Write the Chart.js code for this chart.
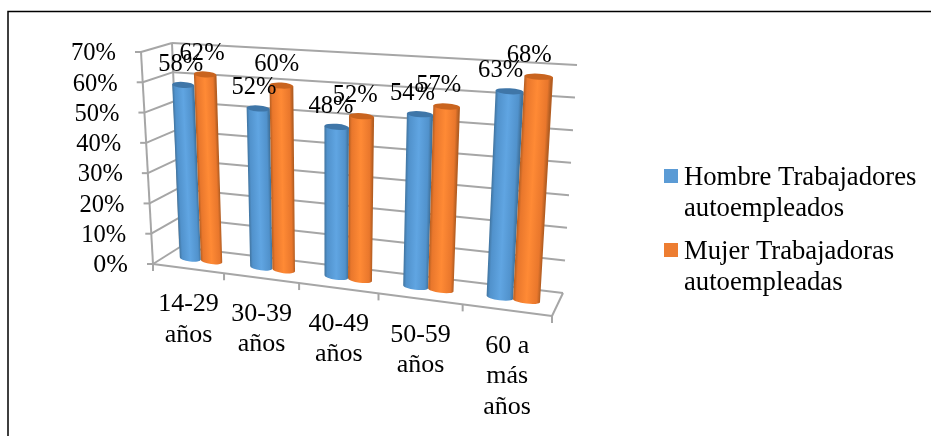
<!DOCTYPE html>
<html>
<head>
<meta charset="utf-8">
<title>Trabajadores autoempleados</title>
<script src="https://cdn.jsdelivr.net/npm/chart.js@4"></script>
<style>
  html, body { margin: 0; padding: 0; background: #fff; }
  canvas { display: block; }
</style>
</head>
<body>
<canvas id="chart" width="931" height="436"></canvas>
<script>
const categories = [['14-29', 'años'], ['30-39', 'años'], ['40-49', 'años'], ['50-59', 'años'], ['60 a', 'más', 'años']];
const hombreValues = [58, 52, 48, 54, 63];
const mujerValues = [62, 60, 52, 57, 68];
const hombreLegend = ['Hombre Trabajadores', 'autoempleados'];
const mujerLegend = ['Mujer Trabajadoras', 'autoempleadas'];

const SERIF = '"Liberation Serif", "Times New Roman", serif';
const GRID = '#a6a6a6';

// corners of the 3d box, front plane and back plane (the chart area is the front plane)
const front = { tl: [141, 52], tr: [567, 79], br: [552, 316], bl: [153, 264] };
const back = { tl: [172, 43], tr: [577, 65], br: [563, 293], bl: [180, 247] };
const SQUEEZE = 0.154; // left side of the floor is further away

function lerp(a, b, t) { return a + (b - a) * t; }

// u, v: 0..1 inside the chart area, w: 0 front, 1 back
function project(u, v, w) {
  const k = u / (1 + SQUEEZE * (1 - u));
  const pt = i => {
    const f = lerp(lerp(front.tl[i], front.tr[i], k), lerp(front.bl[i], front.br[i], k), v);
    const b = lerp(lerp(back.tl[i], back.tr[i], k), lerp(back.bl[i], back.br[i], k), v);
    return lerp(f, b, w);
  };
  return [pt(0), pt(1)];
}

function line(ctx, a, b) {
  ctx.beginPath();
  ctx.moveTo(a[0], a[1]);
  ctx.lineTo(b[0], b[1]);
  ctx.stroke();
}

function cylinder(ctx, area, bar, shades) {
  const u0 = (bar.x - bar.width / 2 - area.left) / area.width;
  const u1 = (bar.x + bar.width / 2 - area.left) / area.width;
  const top = (bar.y - area.top) / area.height;
  const bottom = (bar.base - area.top) / area.height;
  const tl = project(u0, top, 0.5), tr = project(u1, top, 0.5);
  const bl = project(u0, bottom, 0.5), br = project(u1, bottom, 0.5);
  const ry = 3;
  const tilt = Math.atan2(br[1] - bl[1], br[0] - bl[0]);
  const tiltTop = Math.atan2(tr[1] - tl[1], tr[0] - tl[0]);
  const rb = Math.hypot(br[0] - bl[0], br[1] - bl[1]) / 2;
  const rt = Math.hypot(tr[0] - tl[0], tr[1] - tl[1]) / 2;

  ctx.save();
  ctx.beginPath();
  ctx.moveTo(tl[0], tl[1]);
  ctx.lineTo(bl[0], bl[1]);
  ctx.ellipse((bl[0] + br[0]) / 2, (bl[1] + br[1]) / 2, rb, ry, tilt, Math.PI, 0, true);
  ctx.lineTo(tr[0], tr[1]);
  ctx.closePath();
  ctx.clip();

  // shear so the shading runs along the leaning side of the cylinder
  const shear = (tl[0] - bl[0]) / (tl[1] - bl[1]);
  ctx.transform(1, 0, shear, 1, -shear * bl[1], 0);
  const grad = ctx.createLinearGradient(bl[0], 0, br[0], 0);
  grad.addColorStop(0, shades[0]);
  grad.addColorStop(0.12, shades[1]);
  grad.addColorStop(0.5, shades[2]);
  grad.addColorStop(0.88, shades[1]);
  grad.addColorStop(1, shades[0]);
  ctx.fillStyle = grad;
  ctx.fillRect(bl[0] - 5, tl[1] - 10, br[0] - bl[0] + 10, bl[1] - tl[1] + 30);
  ctx.restore();

  ctx.beginPath();
  ctx.ellipse((tl[0] + tr[0]) / 2, (tl[1] + tr[1]) / 2, rt, ry, tiltTop, 0, Math.PI * 2);
  ctx.fillStyle = shades[3];
  ctx.fill();
}

const BLUE = ['#41749f', '#5192cc', '#60a5e2', '#3f76a8'];
const ORANGE = ['#b45e22', '#e9772c', '#ff8a35', '#c9641f'];

const box3d = {
  id: 'box3d',
  // frame, walls and grid go under the bars
  beforeDatasetsDraw(chart) {
    const { ctx, chartArea: area, scales: { y } } = chart;
    ctx.save();
    ctx.strokeStyle = '#000';
    ctx.lineWidth = 1.5;
    ctx.strokeRect(8, 11.5, 940, 460);

    ctx.strokeStyle = GRID;
    ctx.lineWidth = 2;
    y.ticks.forEach(t => {
      const v = (y.getPixelForValue(t.value) - area.top) / area.height;
      const p0 = project(0, v, 0), p1 = project(0, v, 1), p2 = project(1, v, 1);
      line(ctx, [p0[0] - 6, p0[1]], p0);
      line(ctx, p0, p1);
      line(ctx, p1, p2);
    });
    line(ctx, project(0, 0, 0), project(0, 1, 0));
    line(ctx, project(0, 0, 1), project(0, 1, 1));
    line(ctx, project(0, 1, 0), project(1, 1, 0));
    line(ctx, project(1, 1, 0), project(1, 1, 1));
    for (let i = 0; i <= categories.length; i++) {
      const p = project(i / categories.length, 1, 0);
      line(ctx, p, [p[0], p[1] + 7]);
    }
    ctx.restore();
  },
  afterDatasetsDraw(chart) {
    const { ctx, chartArea: area, scales: { x, y } } = chart;
    const metas = [chart.getDatasetMeta(0), chart.getDatasetMeta(1)];
    const shades = [BLUE, ORANGE];

    ctx.save();
    categories.forEach((c, i) => {
      metas.forEach((meta, d) => cylinder(ctx, area, meta.data[i], shades[d]));
    });

    ctx.fillStyle = '#000';
    ctx.textBaseline = 'middle';

    // value labels, a bit condensed like the reference
    ctx.font = '26px ' + SERIF;
    ctx.textAlign = 'center';
    metas.forEach((meta, d) => {
      meta.data.forEach((bar, i) => {
        const u = (bar.x - area.left) / area.width;
        const v = (bar.y - area.top) / area.height;
        const p = project(u, v, 0.5);
        ctx.fillText(chart.data.datasets[d].data[i] + '%', p[0] - 2 - 8 * u, p[1] - 21, 45);
      });
    });

    // y tick labels follow the slanted front edge
    ctx.textAlign = 'right';
    y.ticks.forEach(t => {
      const v = (y.getPixelForValue(t.value) - area.top) / area.height;
      const p = project(0, v, 0);
      ctx.fillText(t.label, p[0] - 25, p[1] + 1.5, 45);
    });

    // category labels follow the front of the floor
    ctx.textAlign = 'center';
    categories.forEach((lines, i) => {
      const u = (x.getPixelForValue(i) - area.left) / area.width;
      const p = project(u, 1, 0);
      lines.forEach((txt, n) => ctx.fillText(txt, p[0] + 0.5, p[1] + 36 + n * 30.5));
    });

    // legend
    ctx.font = '26.7px ' + SERIF;
    ctx.textAlign = 'left';
    chart.data.datasets.forEach((ds, d) => {
      const top = d === 0 ? 169 : 243;
      ctx.fillStyle = ds.legendColor;
      ctx.fillRect(664, top, 14, 14);
      ctx.fillStyle = '#000';
      ds.legendLines.forEach((txt, n) => ctx.fillText(txt, 684, top + 9 + n * 31));
    });
    ctx.restore();
  }
};

new Chart(document.getElementById('chart'), {
  type: 'bar',
  data: {
    labels: categories,
    datasets: [
      { label: hombreLegend.join(' '), data: hombreValues, legendLines: hombreLegend, legendColor: '#5b9bd5', backgroundColor: 'transparent' },
      { label: mujerLegend.join(' '), data: mujerValues, legendLines: mujerLegend, legendColor: '#ed7d31', backgroundColor: 'transparent' }
    ]
  },
  options: {
    responsive: false,
    animation: false,
    // keeps the chart area on the front plane of the box
    layout: { padding: { left: 153, right: 931 - 552, top: 52, bottom: 436 - 264 } },
    datasets: { bar: { categoryPercentage: 0.61, barPercentage: 1 } },
    plugins: { legend: { display: false }, tooltip: { enabled: false } },
    scales: {
      x: { display: false },
      y: {
        display: false,
        min: 0,
        max: 70,
        ticks: { stepSize: 10, callback: v => v + '%' }
      }
    }
  },
  plugins: [box3d]
});
</script>
</body>
</html>
